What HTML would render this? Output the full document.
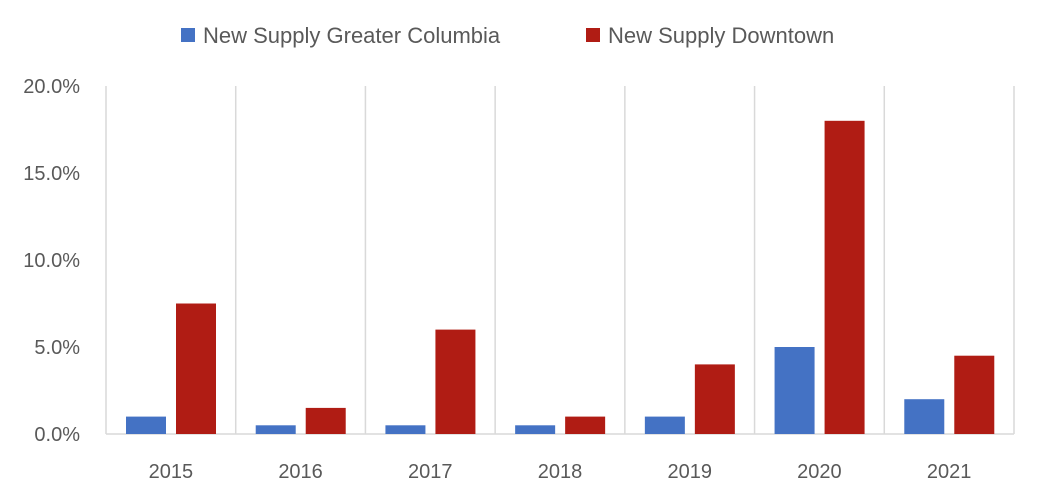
<!DOCTYPE html>
<html><head><meta charset="utf-8"><style>
body{margin:0;background:#fff;font-family:"Liberation Sans",sans-serif;}
svg text{font-family:"Liberation Sans",sans-serif;fill:#595959;}
</style></head><body>
<svg width="1037" height="499">
<g id="legend">
<rect x="181" y="28" width="14" height="14" fill="#4472C4"/>
<text x="203" y="43" font-size="22">New Supply Greater Columbia</text>
<rect x="586" y="28" width="14" height="14" fill="#B01C14"/>
<text x="608" y="43" font-size="22">New Supply Downtown</text>
</g>
<g id="grid"></g><g id="bars"></g><g id="labels"></g>
</svg>
<script>
const categories=["2015","2016","2017","2018","2019","2020","2021"];
const greaterColumbia=[1.0,0.5,0.5,0.5,1.0,5.0,2.0];
const downtown=[7.5,1.5,6.0,1.0,4.0,18.0,4.5];
const yTicks=[0,5,10,15,20];
const yTickLabels=["0.0%","5.0%","10.0%","15.0%","20.0%"];
const NS="http://www.w3.org/2000/svg";
const x0=106,x1=1014,yBase=434,yTop=86,yMax=20;
const cw=(x1-x0)/categories.length;
const y=v=>yBase-(v/yMax)*(yBase-yTop);
function mk(tag,attrs,parent){const e=document.createElementNS(NS,tag);for(const k in attrs)e.setAttribute(k,attrs[k]);parent.appendChild(e);return e;}
const grid=document.getElementById('grid'),bars=document.getElementById('bars'),labels=document.getElementById('labels');
for(let i=0;i<=categories.length;i++){
 const l=mk('line',{x1:x0+i*cw,x2:x0+i*cw,y1:yTop,y2:yBase,stroke:'#D9D9D9','stroke-width':1.5},grid);
 
 
}
const ax=mk('line',{x1:x0,x2:x1,y1:yBase,y2:yBase,stroke:'#D9D9D9','stroke-width':1.5},grid);


yTicks.forEach((t,i)=>{
 const tx=mk('text',{x:80,y:y(t)+7,'font-size':20,'text-anchor':'end'},labels);
 tx.textContent=yTickLabels[i];
 
 
});
categories.forEach((c,i)=>{
 const cx=x0+i*cw;
 const b1=mk('rect',{x:cx+20,y:y(greaterColumbia[i]),width:40,height:yBase-y(greaterColumbia[i]),fill:'#4472C4'},bars);
 
 
 const b2=mk('rect',{x:cx+70,y:y(downtown[i]),width:40,height:yBase-y(downtown[i]),fill:'#B01C14'},bars);
 
 
 const t=mk('text',{x:cx+cw/2,y:478,'font-size':20,'text-anchor':'middle'},labels);
 t.textContent=c;
 
 
});
</script>
</body></html>
